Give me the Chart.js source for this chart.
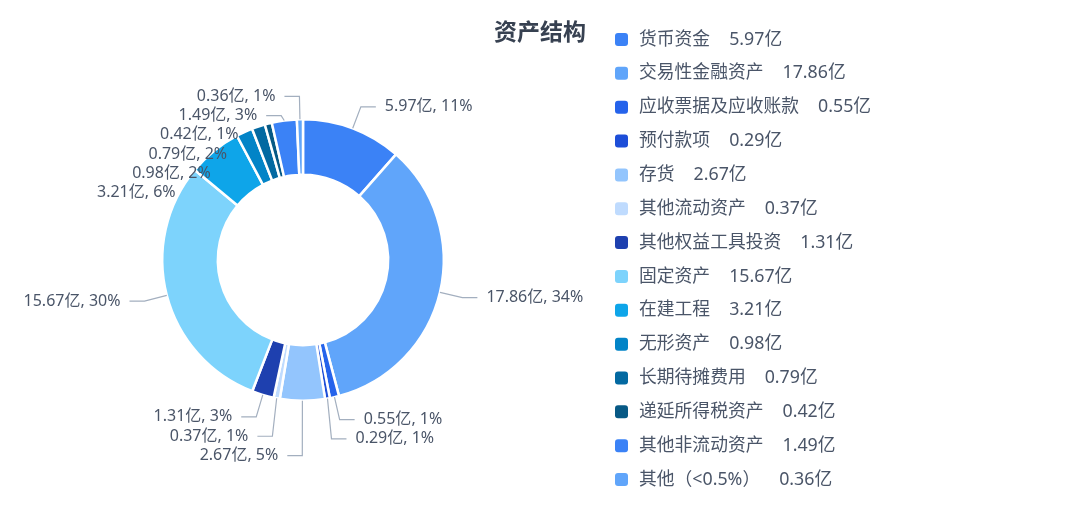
<!DOCTYPE html>
<html lang="zh">
<head>
    <meta charset="UTF-8">
    <title>资产结构</title>
    <script src="https://cdn.jsdelivr.net/npm/chart.js"></script>
    <style>
        body {
            margin: 0;
            background: #ffffff;
            font-family: 'Noto Sans', 'Noto Sans CJK SC', sans-serif;
        }
        .wrap {
            position: relative;
            width: 1080px;
            height: 521px;
        }
    </style>
</head>
<body>
    <div class="wrap">
        <canvas id="assetChart"></canvas>
    </div>
    <script>
        const categories = ["货币资金", "交易性金融资产", "应收票据及应收账款", "预付款项", "存货", "其他流动资产",
            "其他权益工具投资", "固定资产", "在建工程", "无形资产", "长期待摊费用", "递延所得税资产", "其他非流动资产", "其他（<0.5%）"];
        const values = [5.97, 17.86, 0.55, 0.29, 2.67, 0.37, 1.31, 15.67, 3.21, 0.98, 0.79, 0.42, 1.49, 0.36];
        const colors = ["#3b82f6", "#60a5fa", "#2563eb", "#1d4ed8", "#93c5fd", "#bfdbfe", "#1e40af",
            "#7dd3fc", "#0ea5e9", "#0284c7", "#0369a1", "#075985", "#3b82f6", "#60a5fa"];
        const unit = "亿";
        const title = "资产结构";

        const total = values.reduce((a, b) => a + b, 0);
        const fontFamily = "'Noto Sans', 'Noto Sans CJK SC', sans-serif";
        const cjkFamily = "'Noto Sans CJK SC', sans-serif";

        // outside labels with leader lines, pushed down when they overlap
        const sliceLabels = {
            id: "sliceLabels",
            afterDatasetsDraw(chart) {
                const ctx = chart.ctx;
                const arcs = chart.getDatasetMeta(0).data;
                const len1 = 23, len2 = 15, gap = 9, lineH = 19.3;
                let items = arcs.map((arc, i) => {
                    const mid = (arc.startAngle + arc.endAngle) / 2;
                    const r = arc.outerRadius;
                    return {
                        i: i,
                        cx: arc.x, cy: arc.y, r: r,
                        ax: arc.x + Math.cos(mid) * r,
                        ay: arc.y + Math.sin(mid) * r,
                        ex: arc.x + Math.cos(mid) * (r + len1),
                        ey: arc.y + Math.sin(mid) * (r + len1),
                        right: Math.cos(mid) >= 0
                    };
                });
                [true, false].forEach(side => {
                    const list = items.filter(it => it.right === side).sort((a, b) => a.ey - b.ey);
                    for (let k = 1; k < list.length; k++) {
                        if (list[k].ey < list[k - 1].ey + lineH) list[k].ey = list[k - 1].ey + lineH;
                    }
                });
                ctx.save();
                ctx.font = "16px " + fontFamily;
                ctx.textBaseline = "middle";
                items.forEach(it => {
                    const dir = it.right ? 1 : -1;
                    const d = Math.hypot(it.ex - it.cx, it.ey - it.cy);
                    if (d > it.r + 2) {
                        ctx.beginPath();
                        ctx.moveTo(it.ax, it.ay);
                        ctx.lineTo(it.ex, it.ey);
                        ctx.lineTo(it.ex + dir * len2, it.ey);
                        ctx.strokeStyle = "#a3afbf";
                        ctx.lineWidth = 1.2;
                        ctx.stroke();
                    }
                    const pct = Math.round(values[it.i] / total * 100);
                    ctx.fillStyle = "#4a5568";
                    ctx.textAlign = it.right ? "left" : "right";
                    ctx.fillText(values[it.i] + unit + ", " + pct + "%", it.ex + dir * (len2 + gap), it.ey);
                });
                ctx.restore();
            }
        };

        // title and value legend on the right
        const sideLegend = {
            id: "sideLegend",
            afterDraw(chart) {
                const ctx = chart.ctx;
                ctx.save();
                ctx.textBaseline = "middle";
                ctx.font = "bold 23px " + cjkFamily;
                ctx.fillStyle = "#374151";
                ctx.textAlign = "center";
                ctx.fillText(title, 540, 31);

                ctx.font = "17.8px " + fontFamily;
                ctx.textAlign = "left";
                categories.forEach((name, i) => {
                    const y = 39.5 + i * 33.85;
                    ctx.fillStyle = colors[i];
                    ctx.beginPath();
                    ctx.roundRect(615, y - 6.5, 13, 13, 3);
                    ctx.fill();
                    ctx.fillStyle = "#4a5568";
                    ctx.fillText(name, 639, y);
                    const w = ctx.measureText(name).width;
                    ctx.fillText(values[i] + unit, 639 + w + 19, y);
                });
                ctx.restore();
            }
        };

        new Chart(document.getElementById("assetChart"), {
            type: "doughnut",
            data: {
                labels: categories,
                datasets: [{
                    data: values,
                    backgroundColor: colors,
                    borderColor: "#ffffff",
                    borderWidth: 2.5,
                    hoverOffset: 0
                }]
            },
            options: {
                responsive: true,
                maintainAspectRatio: false,
                animation: false,
                cutout: "60.5%",
                layout: { padding: { left: 161, right: 635, top: 118, bottom: 119 } },
                plugins: {
                    legend: { display: false },
                    tooltip: { enabled: false }
                }
            },
            plugins: [sliceLabels, sideLegend]
        });
    </script>
</body>
</html>
